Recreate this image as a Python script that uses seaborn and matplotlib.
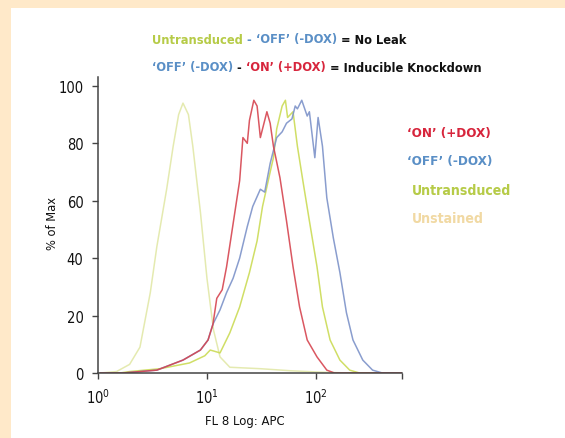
import numpy as np
import pandas as pd
import seaborn as sns
import matplotlib.pyplot as plt
from matplotlib.patches import Rectangle
from matplotlib.ticker import NullLocator

# traces: log10 of FL8 signal, % of max
unstained_log = [0.02, 0.17, 0.29, 0.385, 0.48, 0.54, 0.63, 0.69, 0.74, 0.78, 0.83, 0.87, 0.94, 1.0, 1.06, 1.12, 1.21, 1.49, 1.76, 2.04, 2.3, 2.79]
unstained_pct = [0, 0.5, 3, 9, 28, 44, 64, 79, 90, 94, 90, 79, 56, 33, 15, 5.6, 2, 1.5, 0.8, 0.3, 0, 0]

untrans_log = [0.02, 0.2, 0.29, 0.57, 0.84, 0.98, 1.03, 1.12, 1.21, 1.30, 1.39, 1.46, 1.51, 1.58, 1.61, 1.64, 1.69, 1.72, 1.74, 1.79, 1.83, 1.88, 1.94, 2.01, 2.06, 2.13, 2.22, 2.31, 2.40, 2.79]
untrans_pct = [0, 0, 0.5, 1.5, 3.5, 6, 8, 7, 14, 23, 35, 46, 58, 70, 75, 85, 93, 95, 89, 91, 79, 67, 53, 37, 23, 11.5, 4.5, 1, 0, 0]

off_log = [0.02, 0.23, 0.54, 0.78, 0.94, 1.01, 1.055, 1.12, 1.18, 1.24, 1.30, 1.37, 1.42, 1.49, 1.53, 1.58, 1.64, 1.69, 1.73, 1.78, 1.81, 1.83, 1.87, 1.92, 1.94, 1.99, 2.02, 2.06, 2.10, 2.16, 2.22, 2.28, 2.34, 2.43, 2.52, 2.61, 2.79]
off_pct = [0, 0, 1, 4.5, 8, 11.5, 17, 22, 28, 33, 40, 51, 58, 64, 63, 73, 82, 84, 87, 88.5, 93, 92, 95, 89.5, 91, 75, 89, 79, 61, 47, 35, 21, 11.5, 4.5, 1, 0, 0]

on_log = [0.02, 0.23, 0.54, 0.78, 0.94, 1.01, 1.055, 1.09, 1.14, 1.18, 1.24, 1.30, 1.33, 1.37, 1.39, 1.43, 1.46, 1.49, 1.51, 1.55, 1.58, 1.61, 1.67, 1.73, 1.79, 1.85, 1.92, 2.01, 2.10, 2.17, 2.79]
on_pct = [0, 0, 1, 4.5, 8, 11.5, 17, 26, 29, 37, 52, 67, 82, 80, 88, 95, 93, 82, 85, 91, 87, 79, 68, 53, 37, 23, 11.5, 5.6, 1, 0, 0]

samples = ["Unstained", "Untransduced", "OFF", "ON"]
line_colors = ["#E2E8A8", "#CBDB55", "#7D93C9", "#D64550"]

frames = []
for name, lg, pct in zip(samples, [unstained_log, untrans_log, off_log, on_log],
                         [unstained_pct, untrans_pct, off_pct, on_pct]):
    frames.append(pd.DataFrame({"fl": 10 ** np.array(lg), "pct": pct, "sample": name}))
df = pd.concat(frames, ignore_index=True)

sns.set_style("ticks")
plt.rcParams['font.family'] = ['DejaVu Sans']
plt.rcParams['font.stretch'] = 'condensed'

fig = plt.figure(figsize=(5.65, 4.39), dpi=100, facecolor="#FFE9C9")
fig.patches.append(Rectangle((11 / 565, 0), 1, 430 / 439, transform=fig.transFigure,
                             facecolor="white", edgecolor="none", zorder=-5))
ax = fig.add_axes([98 / 565, 65 / 439, 304 / 565, 296 / 439])
ax.set_facecolor("white")

sns.lineplot(data=df, x="fl", y="pct", hue="sample", hue_order=samples,
             palette=dict(zip(samples, line_colors)), sort=False, estimator=None,
             legend=False, linewidth=1.1, alpha=0.9, ax=ax)

ax.set_xscale("log")
ax.set_xlim(1, 10 ** 2.79)
ax.set_ylim(0, 103.1)
ax.set_xticks([1, 10, 100])
ax.set_xticklabels([r"$\mathregular{10^0}$", r"$\mathregular{10^1}$", r"$\mathregular{10^2}$"])
ax.xaxis.set_minor_locator(NullLocator())
ax.set_xticks([10 ** 2.79], minor=True)
ax.set_yticks([0, 20, 40, 60, 80, 100])
ax.set_xlabel("")
ax.set_ylabel("")
for s in ["top", "right"]:
    ax.spines[s].set_visible(False)
for s in ["left", "bottom"]:
    ax.spines[s].set_color("#444444")
    ax.spines[s].set_linewidth(1.1)
ax.tick_params(which="both", length=4.5, width=1, color="#444444", labelsize=10.5,
               labelcolor="#111111", pad=6)

renderer = fig.canvas.get_renderer()


def fit_size(parts, width_px, base=10, weight="bold"):
    # font size that makes the joined pieces span width_px
    w = 0
    for txt, col in parts:
        t = fig.text(0, 0, txt, fontsize=base, fontweight=weight)
        w += t.get_window_extent(renderer=renderer).width
        t.remove()
    return base * width_px / w


def colored_line(x_px, y_px, parts, width_px, weight="bold", grow=1.05):
    size = fit_size(parts, width_px, weight=weight) * grow
    x = x_px / 565
    for txt, col in parts:
        t = fig.text(x, 1 - y_px / 439, txt, color=col, fontsize=size,
                     fontweight=weight, ha="left", va="center")
        x += t.get_window_extent(renderer=renderer).width / fig.bbox.width
    return size


red, blue, green, tan, black = "#D7253C", "#5A8FC6", "#B6CB47", "#F1D9A3", "#111111"

colored_line(152, 40, [("Untransduced", green), (" - ", blue), ("\u2018OFF\u2019 (-DOX)", blue),
                       (" = No Leak", black)], 241)
colored_line(152, 68, [("\u2018OFF\u2019 (-DOX)", blue), (" - ", black), ("\u2018ON\u2019 (+DOX)", red),
                       (" = Inducible Knockdown", black)], 314)

colored_line(407, 134, [("\u2018ON\u2019 (+DOX)", red)], 80)
colored_line(407, 162, [("\u2018OFF\u2019 (-DOX)", blue)], 81)
colored_line(412, 191, [("Untransduced", green)], 94)
colored_line(412, 219, [("Unstained", tan)], 68)

ylab_size = fit_size([("% of Max", black)], 53, weight="normal")
fig.text(52 / 565, 1 - 224 / 439, "% of Max", rotation=90, ha="center", va="center",
         fontsize=ylab_size, color=black)
xlab_size = fit_size([("FL 8 Log: APC", black)], 80, weight="normal")
fig.text(245 / 565, 1 - 422 / 439, "FL 8 Log: APC", ha="center", va="center",
         fontsize=xlab_size, color=black)

fig.savefig("out.png", dpi=100, facecolor=fig.get_facecolor())
